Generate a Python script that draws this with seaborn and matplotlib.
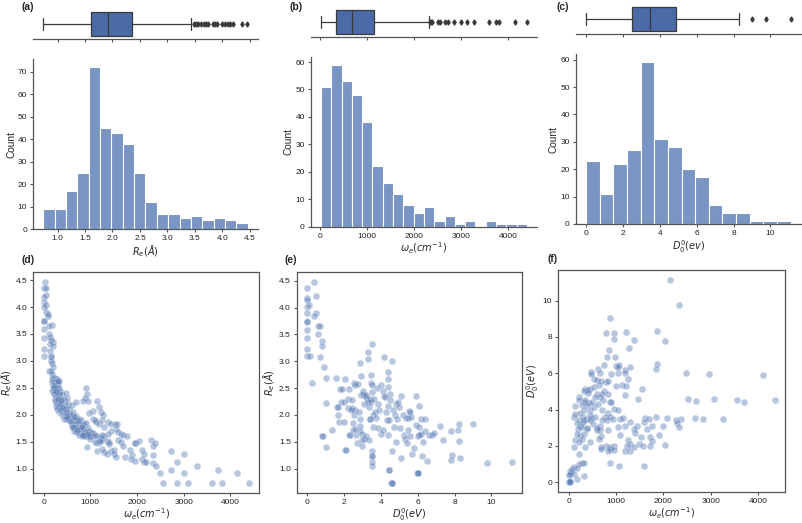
import numpy as np
import matplotlib
matplotlib.use("Agg")
import matplotlib.pyplot as plt
import seaborn as sns

# ---------------- data ----------------
# histogram (a): Re
re_edges = [0.74 + 0.2067 * k for k in range(19)]
re_counts = [9, 9, 17, 25, 72, 45, 43, 38, 25, 12, 7, 7, 5, 6, 4, 5, 4, 3]
# histogram (b): omega_e
we_edges = [15 + 219.5 * k for k in range(21)]
we_counts = [51, 59, 53, 48, 38, 22, 16, 12, 8, 5, 7, 2, 4, 1, 2, 0, 2, 1, 1, 1]
# histogram (c): D0
d0_edges = [0 + 0.74 * k for k in range(16)]
d0_counts = [23, 11, 22, 27, 59, 31, 28, 20, 17, 7, 4, 4, 1, 1, 1]

# boxplot summaries (whislo, q1, median, q3, whishi) + outliers
re_box = [0.74, 1.60, 1.92, 2.35, 3.43]
re_fliers = [3.48, 3.52, 3.56, 3.61, 3.66, 3.70, 3.74, 3.82, 3.86, 3.90, 3.99, 4.04,
             4.10, 4.14, 4.19, 4.35, 4.45]
we_box = [15, 343, 670, 1135, 2306]
we_fliers = [2330, 2360, 2390, 2510, 2550, 2660, 2720, 2850, 2990, 3130, 3280, 3600,
             3750, 3810, 4140, 4401]
d0_box = [0.0, 2.47, 3.46, 4.89, 8.27]
d0_fliers = [8.99, 9.75, 11.1]

# scatter (d): omega_e vs Re
d_pts = [
    (40, 4.47), (0, 4.36), (55, 4.36), (50, 4.22), (0, 4.18), (15, 4.1), (50, 4.04), (15, 4.0),
    (60, 3.9), (100, 3.87), (90, 3.84), (0, 3.75), (5, 3.74), (190, 3.67), (110, 3.64), (0, 3.59),
    (120, 3.5), (140, 3.45), (0, 3.43), (200, 3.36), (160, 3.38), (140, 3.32), (200, 3.28),
    (0, 3.23), (130, 3.18), (0, 3.1), (150, 3.09), (160, 3.08), (150, 3.0), (170, 2.97),
    (210, 2.88), (120, 2.82), (150, 2.81), (180, 2.75), (200, 2.71), (170, 2.66), (250, 2.68),
    (290, 2.67), (220, 2.62), (190, 2.6), (260, 2.6), (200, 2.55), (250, 2.55), (300, 2.57),
    (340, 2.63), (210, 2.5), (240, 2.48), (290, 2.5), (320, 2.5), (190, 2.45), (230, 2.43),
    (270, 2.42), (360, 2.45), (220, 2.38), (260, 2.35), (300, 2.37), (330, 2.38), (400, 2.38),
    (480, 2.4), (250, 2.3), (290, 2.28), (350, 2.3), (420, 2.3), (240, 2.25), (280, 2.22),
    (330, 2.2), (380, 2.22), (450, 2.25), (500, 2.32), (270, 2.17), (310, 2.15), (350, 2.12),
    (400, 2.15), (450, 2.17), (520, 2.2), (600, 2.18), (700, 2.23), (290, 2.1), (340, 2.05),
    (380, 2.08), (430, 2.05), (480, 2.1), (550, 2.1), (620, 2.05), (400, 2.0), (450, 1.98),
    (500, 2.0), (550, 1.97), (630, 2.0), (700, 1.98), (430, 1.93), (480, 1.93), (530, 1.92),
    (600, 1.93), (650, 1.9), (700, 1.93), (750, 1.93), (800, 1.9), (580, 1.85), (630, 1.83),
    (680, 1.83), (730, 1.82), (780, 1.8), (830, 1.83), (870, 1.82), (900, 1.85), (600, 1.78),
    (650, 1.75), (700, 1.77), (760, 1.73), (800, 1.75), (850, 1.73), (900, 1.7), (950, 1.75),
    (650, 1.7), (700, 1.68), (750, 1.68), (800, 1.67), (850, 1.65), (920, 1.65), (980, 1.7),
    (1020, 1.68), (1060, 1.66), (760, 1.62), (820, 1.6), (860, 1.6), (900, 1.6), (950, 1.6),
    (1000, 1.6), (1050, 1.6), (1100, 1.62), (1150, 1.6), (1200, 1.57), (900, 2.5), (930, 2.38),
    (880, 2.32), (950, 2.25), (840, 2.25), (1150, 2.25), (1180, 2.15), (1220, 2.05), (1270, 2.0),
    (1060, 2.07), (980, 2.03), (1050, 1.93), (1100, 1.9), (1130, 1.87), (1180, 1.82), (1250, 1.9),
    (1300, 1.78), (1380, 1.87), (1450, 1.83), (1520, 1.83), (1580, 1.82), (1560, 1.73),
    (1600, 1.68), (1650, 1.65), (1700, 1.63), (1780, 1.6), (1450, 1.7), (1370, 1.65), (1300, 1.6),
    (1250, 1.55), (1200, 1.5), (1150, 1.32), (1250, 1.37), (1300, 1.3), (1350, 1.27), (1450, 1.33),
    (1500, 1.35), (1500, 1.28), (1550, 1.22), (1600, 1.53), (1650, 1.5), (1700, 1.42), (1750, 1.22),
    (1850, 1.35), (1900, 1.25), (1880, 1.18), (1950, 1.15), (1950, 1.47), (1960, 1.47),
    (2050, 1.52), (2100, 1.35), (2150, 1.28), (2100, 1.18), (2150, 1.13), (2200, 1.13),
    (2300, 1.53), (2350, 1.42), (2380, 1.47), (2350, 1.25), (2350, 1.1), (2400, 1.05), (2500, 0.92),
    (2550, 0.74), (2720, 1.33), (2720, 0.97), (2850, 1.12), (2850, 0.74), (3000, 1.27),
    (3000, 0.92), (3100, 0.74), (3280, 1.04), (3600, 0.74), (3730, 0.97), (3820, 0.74),
    (4140, 0.92), (4401, 0.74), (920, 1.41), (1150, 1.48), (1200, 1.52), (1250, 1.63),
    (1350, 1.52), (1400, 1.5), (1400, 1.45), (1000, 1.55), (1100, 1.5), (300, 2.62), (360, 2.2),
    (420, 2.12), (560, 2.02), (660, 1.95), (740, 1.88), (820, 1.78), (880, 1.68), (960, 1.64),
    (230, 2.52), (260, 2.45), (310, 2.3), (380, 2.27), (470, 2.05), (510, 1.96), (560, 1.88),
    (620, 1.78), (720, 1.72), (840, 1.62),
]
d_we = [p[0] for p in d_pts]
d_re = [p[1] for p in d_pts]

# scatter (e): D0 vs Re
e_pts = [
    (0, 4.36), (0.4, 4.47), (0, 4.18), (0, 4.15), (0.5, 4.21), (0, 4.01), (0.1, 4.04), (0, 3.89),
    (0.5, 3.9), (0.4, 3.85), (0, 3.75), (0, 3.74), (0, 3.58), (0.6, 3.65), (0.7, 3.66), (0, 3.43),
    (0.6, 3.5), (0.8, 3.37), (0.8, 3.28), (0, 3.22), (0, 3.1), (0.15, 3.1), (0.7, 3.08), (0.9, 2.89),
    (0.3, 2.6), (1.05, 2.68), (1.05, 2.23), (1.05, 1.41), (0.85, 1.6), (0.8, 1.6), (1.35, 1.73),
    (1.6, 2.68), (1.65, 2.15), (1.7, 2.0), (1.75, 1.87), (1.8, 2.49), (1.85, 2.25), (1.9, 2.48),
    (2.0, 2.25), (2.0, 1.87), (2.05, 2.67), (2.05, 1.35), (2.1, 1.35), (2.2, 2.3), (2.25, 2.13),
    (2.3, 1.62), (2.3, 2.48), (2.35, 1.62), (2.45, 2.13), (2.45, 2.28), (2.5, 1.73), (2.5, 1.85),
    (2.55, 2.0), (2.55, 2.6), (2.6, 2.55), (2.6, 1.74), (2.6, 2.1), (2.65, 1.62), (2.7, 1.47),
    (2.75, 2.58), (2.8, 2.05), (2.85, 1.8), (2.85, 1.7), (2.9, 2.97), (2.9, 1.92), (2.95, 2.38),
    (2.95, 2.72), (3.0, 1.43), (3.0, 1.53), (3.0, 1.65), (3.05, 2.45), (3.05, 2.4), (3.1, 2.2),
    (3.1, 1.55), (3.15, 2.35), (3.2, 1.6), (3.25, 2.3), (3.3, 2.25), (3.3, 3.18), (3.3, 3.05),
    (3.35, 2.15), (3.35, 1.53), (3.4, 2.3), (3.4, 1.92), (3.45, 2.25), (3.45, 2.6), (3.45, 2.75),
    (3.5, 2.55), (3.5, 2.42), (3.5, 1.23), (3.55, 1.05), (3.55, 1.12), (3.55, 1.33), (3.55, 3.32),
    (3.6, 2.0), (3.6, 1.78), (3.65, 2.3), (3.7, 2.05), (3.75, 1.95), (3.8, 2.5), (3.85, 2.2),
    (3.85, 1.75), (3.9, 2.1), (4.0, 2.55), (4.0, 1.65), (4.1, 2.45), (4.1, 1.73), (4.15, 3.08),
    (4.2, 2.35), (4.25, 2.33), (4.3, 2.05), (4.35, 1.9), (4.4, 2.8), (4.4, 2.67), (4.4, 2.52),
    (4.4, 2.17), (4.4, 1.63), (4.45, 0.98), (4.45, 1.9), (4.5, 2.4), (4.5, 2.28), (4.55, 0.74),
    (4.6, 0.74), (4.6, 1.33), (4.6, 3.0), (4.65, 2.1), (4.7, 1.78), (4.75, 2.0), (4.8, 1.5),
    (4.85, 2.2), (4.9, 1.93), (4.95, 2.25), (5.0, 2.15), (5.05, 1.75), (5.1, 1.2), (5.1, 2.35),
    (5.2, 2.0), (5.25, 1.62), (5.3, 1.56), (5.35, 1.95), (5.4, 1.48), (5.5, 1.95), (5.5, 1.72),
    (5.55, 2.07), (5.6, 2.05), (5.6, 1.6), (5.65, 1.97), (5.7, 1.27), (5.8, 1.38), (5.9, 2.35),
    (5.9, 1.82), (5.95, 0.92), (6.0, 0.92), (6.0, 1.6), (6.05, 1.63), (6.1, 2.17), (6.1, 1.77),
    (6.2, 1.93), (6.2, 1.65), (6.25, 1.24), (6.3, 1.5), (6.4, 1.93), (6.4, 1.7), (6.5, 1.15),
    (6.6, 1.62), (6.8, 1.63), (6.9, 1.67), (7.2, 1.8), (7.35, 1.53), (7.8, 1.7), (7.8, 1.17),
    (7.85, 1.25), (8.2, 1.72), (8.25, 1.83), (8.25, 1.52), (8.3, 1.2), (9.0, 1.84), (9.75, 1.1),
    (11.1, 1.13), (1.7, 2.15), (2.4, 2.1), (3.2, 2.38), (3.4, 1.93), (3.55, 1.23), (4.45, 0.98),
    (6.0, 0.92), (4.6, 0.74),
]
e_d0 = [p[0] for p in e_pts]
e_re = [p[1] for p in e_pts]

# scatter (f): omega_e vs D0
f_pts = [
    (2147, 11.13), (2337, 9.78), (880, 9.02), (795, 8.24), (964, 8.2), (1218, 8.28), (1866, 8.3),
    (1373, 7.84), (964, 7.87), (2042, 7.8), (1267, 7.38), (845, 7.28), (810, 6.9), (985, 6.9),
    (753, 6.45), (1007, 6.41), (1056, 6.45), (1302, 6.36), (1866, 6.5), (1851, 6.21), (1197, 6.17),
    (612, 6.21), (472, 6.08), (479, 5.95), (669, 5.99), (901, 5.95), (1035, 6.04), (1035, 6.32),
    (1197, 5.99), (1253, 5.71), (2478, 5.99), (2971, 5.95), (4097, 5.9), (528, 5.71), (598, 5.62),
    (795, 5.53), (838, 5.58), (1126, 5.38), (1000, 5.32), (1211, 5.3), (1549, 5.12), (352, 5.16),
    (458, 5.16), (408, 5.06), (317, 5.03), (528, 5.25), (633, 5.34), (739, 5.03), (598, 4.88),
    (704, 4.88), (824, 4.84), (669, 4.69), (1197, 4.82), (1464, 4.6), (2513, 4.6), (2689, 4.47),
    (3077, 4.57), (3555, 4.55), (3696, 4.42), (4351, 4.51), (880, 4.42), (900, 4.4), (211, 4.69),
    (141, 4.18), (211, 4.51), (317, 4.42), (422, 4.36), (282, 4.23), (387, 4.23), (331, 3.96),
    (458, 3.96), (528, 4.14), (704, 3.96), (950, 4.05), (1035, 3.96), (831, 3.81), (774, 3.59),
    (563, 3.59), (493, 3.55), (387, 3.49), (458, 3.4), (317, 3.4), (211, 3.4), (176, 3.25),
    (106, 3.59), (141, 3.77), (246, 3.12), (282, 3.03), (669, 3.12), (810, 3.4), (880, 3.59),
    (936, 3.48), (1077, 3.46), (1141, 3.53), (1302, 3.31), (1443, 3.12), (1619, 3.55), (1690, 3.46),
    (1584, 3.31), (1851, 3.59), (2077, 3.53), (2267, 3.44), (2380, 3.49), (2288, 3.25),
    (2337, 3.03), (2675, 3.55), (2830, 3.48), (3252, 3.49), (1035, 3.03), (1183, 3.12), (1373, 2.94),
    (1654, 2.94), (1760, 3.12), (1985, 3.07), (669, 2.88), (598, 2.85), (824, 2.88), (387, 2.94),
    (190, 2.94), (246, 2.57), (176, 2.66), (317, 2.66), (282, 2.38), (141, 2.33), (211, 2.2),
    (458, 2.2), (690, 2.53), (1091, 2.61), (1408, 2.7), (1528, 2.48), (1725, 2.51), (1915, 2.61),
    (1253, 2.35), (1478, 2.11), (1302, 2.11), (1387, 1.96), (1570, 2.01), (1725, 2.01), (1232, 2.01),
    (880, 1.96), (795, 2.01), (964, 2.01), (880, 1.81), (683, 1.92), (690, 1.83), (824, 1.74),
    (950, 1.77), (1183, 1.7), (1288, 1.7), (211, 1.55), (106, 1.92), (352, 1.96), (1760, 2.29),
    (2027, 2.07), (880, 1.04), (1056, 0.91), (1584, 0.87), (282, 1.04), (331, 1.05), (211, 1.0),
    (106, 0.81), (176, 0.78), (35, 0.63), (70, 0.72), (50, 0.54), (106, 0.44), (21, 0.44),
    (5, 0.39), (176, 0.2), (317, 0.35), (0, 0.02), (10, 0.0), (20, 0.03), (35, 0.07),
    (300, 3.6), (350, 4.5), (420, 4.9), (500, 4.4), (560, 4.7), (620, 4.3), (680, 5.6), (720, 4.5),
    (250, 3.8), (300, 3.3), (380, 3.0), (450, 3.7), (520, 3.2), (600, 3.0), (650, 2.4), (700, 3.4),
]
f_we = [p[0] for p in f_pts]
f_d0 = [p[1] for p in f_pts]

# ---------------- style ----------------
sns.set_theme(style="ticks")
plt.rcParams["font.family"] = ["Liberation Sans", "DejaVu Sans"]
plt.rcParams["mathtext.fontset"] = "dejavusans"
SPINE = "#555555"
plt.rcParams.update({
    "axes.edgecolor": SPINE, "xtick.color": SPINE, "ytick.color": SPINE,
    "xtick.labelcolor": "#222222", "ytick.labelcolor": "#222222",
    "xtick.labelsize": 6, "ytick.labelsize": 6, "axes.labelsize": 7,
    "axes.labelpad": 1.0, "xtick.major.pad": 1.8, "ytick.major.pad": 1.8,
    "axes.linewidth": 0.9, "xtick.major.size": 2.5, "ytick.major.size": 2.5,
    "xtick.major.width": 0.8, "ytick.major.width": 0.8,
})

W, H = 803, 523
fig = plt.figure(figsize=(W / 100, H / 100), dpi=100)


def add_ax(l, t, r, b):
    return fig.add_axes([l / W, 1 - b / H, (r - l) / W, (b - t) / H])


BLUE = "#4c72b0"
BOXC = "#4a6aa8"


def draw_box(ax, box, fliers, xlim, ticks):
    stats = [dict(whislo=box[0], q1=box[1], med=box[2], q3=box[3], whishi=box[4],
                  fliers=fliers)]
    ax.bxp(stats, vert=False, positions=[0], widths=0.8, patch_artist=True,
           boxprops=dict(facecolor=BOXC, edgecolor="#3a3a3a", linewidth=0.9),
           medianprops=dict(color="#3a3a3a", linewidth=0.9),
           whiskerprops=dict(color="#3a3a3a", linewidth=0.9),
           capprops=dict(color="#3a3a3a", linewidth=0.9),
           flierprops=dict(marker="d", markersize=2.6, markerfacecolor="#3a3a3a",
                           markeredgecolor="#3a3a3a"))
    ax.set_ylim(-0.5, 0.5)
    ax.set_xlim(*xlim)
    ax.set_xticks(ticks)
    ax.set_xticklabels([])
    ax.set_yticks([])
    for s in ["top", "right", "left"]:
        ax.spines[s].set_visible(False)


def draw_hist(ax, edges, counts, xlabel, ticks, yticks):
    centers = [(edges[i] + edges[i + 1]) / 2 for i in range(len(counts))]
    sns.histplot(x=centers, weights=counts, bins=edges, ax=ax, color=BLUE,
                 alpha=0.75, edgecolor="white", linewidth=0.8)
    ax.set_xticks(ticks)
    ax.set_yticks(yticks)
    ax.set_xlabel(xlabel)
    ax.set_ylabel("Count", fontsize=7.3)
    sns.despine(ax=ax)
    return ax.get_xlim()


# top row
panels_top = [
    ((33, 9, 258, 39.3), (33, 59.3, 258, 229.3), re_edges, re_counts, re_box, re_fliers,
     r"$R_e(\AA)$", [1.0, 1.5, 2.0, 2.5, 3.0, 3.5, 4.0, 4.5], range(0, 71, 10)),
    ((310.7, 6.7, 537.3, 36.7), (310.7, 56.7, 537.3, 226.7), we_edges, we_counts, we_box,
     we_fliers, r"$\omega_e(cm^{-1})$", [0, 1000, 2000, 3000, 4000], range(0, 61, 10)),
    ((575.7, 3.5, 801, 33.5), (575.7, 54.3, 801, 224), d0_edges, d0_counts, d0_box, d0_fliers,
     r"$D_0^0(ev)$", [0, 2, 4, 6, 8, 10], range(0, 61, 10)),
]
for bpos, hpos, edges, counts, box, fl, xl, xt, yt in panels_top:
    axh = add_ax(*hpos)
    xlim = draw_hist(axh, edges, counts, xl, xt, yt)
    axb = add_ax(*bpos)
    draw_box(axb, box, fl, xlim, xt)
    axh.set_xlim(*xlim)


def draw_scatter(ax, x, y, xlabel, ylabel, xticks, yticks):
    sns.scatterplot(x=x, y=y, ax=ax, s=24, color=BLUE, alpha=0.4,
                    edgecolor="white", linewidth=0.4)
    ax.set_xticks(xticks)
    ax.set_yticks(yticks)
    ax.set_xlabel(xlabel, labelpad=0.5)
    ax.set_ylabel(ylabel)
    ax.margins(0.05)


axd = add_ax(33.3, 271.7, 259.3, 492.7)
draw_scatter(axd, d_we, d_re, r"$\omega_e(cm^{-1})$", r"$R_e(\AA)$",
             [0, 1000, 2000, 3000, 4000], [1.0, 1.5, 2.0, 2.5, 3.0, 3.5, 4.0, 4.5])
axe = add_ax(296.7, 272.3, 522, 492.7)
draw_scatter(axe, e_d0, e_re, r"$D_0^0(eV)$", r"$R_e(\AA)$",
             [0, 2, 4, 6, 8, 10], [1.0, 1.5, 2.0, 2.5, 3.0, 3.5, 4.0, 4.5])
axf = add_ax(558.3, 270, 785, 492.3)
draw_scatter(axf, f_we, f_d0, r"$\omega_e(cm^{-1})$", r"$D_0^0(eV)$",
             [0, 1000, 2000, 3000, 4000], [0, 2, 4, 6, 8, 10])

# panel letters
for lab, x, y in [("(a)", 22, 7), ("(b)", 290, 7), ("(c)", 557, 7),
                  ("(d)", 22, 260), ("(e)", 285, 260), ("(f)", 548, 259)]:
    fig.text(x / W, 1 - y / H, lab, fontsize=7.5, fontweight="bold", ha="left", va="center")

fig.savefig("out.png", dpi=100)
